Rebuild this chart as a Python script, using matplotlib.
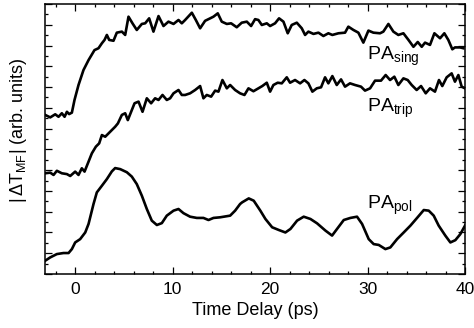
import numpy as np
import matplotlib
matplotlib.use('Agg')
import matplotlib.pyplot as plt
from matplotlib.ticker import MultipleLocator

# Fonte parecida com Arial/Helvetica da figura original
plt.rcParams['font.family'] = ['Liberation Sans', 'DejaVu Sans']
plt.rcParams['mathtext.fontset'] = 'custom'
plt.rcParams['mathtext.rm'] = 'Liberation Sans'
plt.rcParams['mathtext.it'] = 'Liberation Sans:italic'

##############################################################################
""" DADOS (lidos da figura, unidades arbitrárias) """

# PA_sing (curva de cima)
tempo_sing = [-3.08, -2.56, -2.05, -1.71, -1.37, -1.09, -0.85, -0.62, -0.34, -0.07,
              0.34, 0.85, 1.37, 1.98, 2.39, 2.74, 3.01, 3.25, 3.49, 3.93,
              4.27, 4.79, 5.13, 5.47, 5.88, 6.32, 6.84, 7.18, 7.59, 8.03,
              8.55, 9.06, 9.57, 10.09, 10.6, 10.94, 11.28, 11.97, 12.38, 12.82,
              13.33, 13.85, 14.19, 14.63, 15.04, 15.56, 16.0, 16.58, 17.09, 17.61,
              18.05, 18.46, 18.8, 19.15, 19.66, 20.0, 20.51, 20.92, 21.37, 21.81,
              22.22, 22.74, 23.25, 23.59, 23.93, 24.45, 24.96, 25.47, 25.98, 26.39,
              27.01, 27.69, 28.03, 28.55, 29.06, 29.57, 30.09, 30.6, 31.28, 31.62,
              32.14, 32.65, 33.16, 33.68, 34.2, 34.71, 35.15, 35.56, 35.9, 36.41,
              36.86, 37.44, 37.88, 38.29, 38.7, 38.97, 39.49, 39.83]
sinal_sing = [7.66, 7.54, 7.69, 7.57, 7.74, 7.57, 7.81, 7.70, 7.77, 8.38,
              9.10, 9.82, 10.30, 10.78, 10.87, 11.11, 11.27, 11.51, 11.27, 11.23,
              11.62, 11.67, 11.51, 12.39, 12.07, 11.75, 12.04, 12.07, 12.31, 11.67,
              12.42, 11.94, 12.15, 12.04, 12.23, 12.07, 12.23, 12.58, 12.23, 11.83,
              12.19, 12.31, 12.39, 12.55, 12.15, 12.04, 12.07, 11.88, 12.10, 12.15,
              11.94, 12.27, 12.23, 11.99, 12.07, 11.94, 12.07, 12.31, 12.15, 11.59,
              11.99, 12.10, 11.83, 11.51, 11.67, 11.56, 11.62, 11.46, 11.59, 11.51,
              11.59, 11.62, 11.91, 11.75, 11.62, 11.14, 11.72, 11.62, 11.59, 11.67,
              12.04, 11.67, 11.51, 11.59, 11.27, 10.94, 11.17, 10.94, 11.14, 11.03,
              11.59, 11.35, 11.59, 11.27, 10.82, 10.91, 10.91, 10.87]

# PA_trip (curva do meio)
tempo_trip = [-3.08, -2.56, -2.22, -1.88, -1.37, -0.85, -0.51, 0.0, 0.34, 0.68,
              0.96, 1.37, 1.71, 2.12, 2.46, 2.74, 3.08, 3.59, 4.1, 4.38,
              4.79, 5.13, 5.4, 5.74, 6.09, 6.5, 6.91, 7.35, 7.79, 8.2,
              8.55, 8.96, 9.4, 9.74, 10.09, 10.6, 10.94, 11.28, 11.79, 12.31,
              12.82, 13.16, 13.5, 13.95, 14.36, 14.7, 15.11, 15.56, 15.9, 16.41,
              16.92, 17.37, 17.78, 18.29, 18.8, 19.2, 19.66, 20.0, 20.34, 20.78,
              21.2, 21.71, 22.05, 22.56, 23.08, 23.52, 23.93, 24.34, 24.79, 25.23,
              25.64, 25.98, 26.39, 26.84, 27.28, 27.69, 28.2, 28.72, 29.33, 29.74,
              30.26, 30.77, 31.38, 31.86, 32.31, 32.75, 33.16, 33.68, 34.12, 34.53,
              35.04, 35.49, 35.97, 36.41, 36.92, 37.33, 37.67, 38.12, 38.63, 38.97,
              39.32, 39.66, 40.0]
sinal_trip = [4.85, 4.88, 4.77, 4.97, 4.85, 4.81, 4.72, 4.93, 4.77, 5.09,
              4.93, 5.41, 5.81, 6.13, 6.29, 6.69, 6.61, 6.85, 7.09, 7.25,
              7.66, 7.74, 7.41, 7.81, 8.22, 8.30, 7.81, 8.46, 8.22, 8.46,
              8.38, 8.62, 8.38, 8.46, 8.70, 8.86, 8.62, 8.62, 8.70, 8.86,
              9.05, 8.46, 8.62, 8.54, 8.83, 8.78, 9.34, 8.94, 9.10, 8.86,
              8.70, 8.62, 8.94, 8.80, 8.94, 9.05, 9.21, 8.78, 9.10, 9.21,
              9.18, 9.47, 9.21, 9.34, 9.18, 9.34, 9.18, 8.78, 8.94, 8.99,
              9.47, 9.18, 9.53, 9.10, 9.37, 9.02, 9.18, 9.10, 9.02, 8.83,
              8.94, 9.31, 9.31, 9.58, 9.34, 9.50, 9.10, 9.42, 9.34, 9.10,
              8.86, 9.05, 8.70, 8.94, 8.78, 9.34, 9.05, 9.47, 9.66, 9.26,
              9.58, 9.02, 8.94]

# PA_pol (curva de baixo, oscilante)
tempo_pol = [-3.08, -2.56, -1.88, -1.2, -0.68, -0.34, 0.0, 0.51, 1.03, 1.37,
             1.88, 2.22, 2.74, 3.25, 3.76, 4.1, 4.62, 5.3, 5.81, 6.32,
             6.84, 7.35, 7.86, 8.38, 8.89, 9.4, 10.09, 10.6, 11.11, 11.79,
             12.48, 13.16, 13.68, 14.19, 14.87, 15.9, 16.41, 16.92, 17.13, 17.81,
             18.32, 19.0, 19.52, 20.21, 20.89, 21.57, 22.09, 22.77, 23.45, 24.14,
             24.82, 25.68, 26.36, 26.87, 27.56, 28.24, 28.92, 29.44, 30.12, 30.63,
             31.15, 31.83, 32.34, 33.03, 33.71, 34.4, 35.08, 35.77, 36.28, 36.79,
             37.3, 37.98, 38.5, 39.01, 39.52, 40.0]
sinal_pol = [0.64, 0.80, 0.96, 1.01, 1.01, 1.20, 1.52, 1.68, 2.00, 2.41,
             3.37, 3.93, 4.25, 4.57, 4.94, 5.10, 5.05, 4.90, 4.69, 4.33,
             3.77, 3.13, 2.57, 2.36, 2.45, 2.81, 3.05, 3.13, 2.93, 2.76,
             2.70, 2.70, 2.60, 2.70, 2.73, 2.81, 3.05, 3.37, 3.45, 3.64,
             3.53, 3.05, 2.65, 2.25, 2.12, 2.00, 2.17, 2.57, 2.76, 2.65,
             2.44, 2.09, 1.85, 2.17, 2.60, 2.70, 2.76, 2.41, 1.68, 1.44,
             1.40, 1.20, 1.28, 1.68, 2.00, 2.33, 2.70, 3.08, 3.05, 2.81,
             2.33, 1.85, 1.52, 1.63, 1.92, 2.33]

# Rótulos das curvas
rotulos = ['PA$_{\\mathrm{sing}}$', 'PA$_{\\mathrm{trip}}$', 'PA$_{\\mathrm{pol}}$']
rotulo_y = [10.3, 7.8, 3.13]  # altura (linha de base) de cada rótulo
rotulo_x = 29.95

##############################################################################
""" GRÁFICO """

fig = plt.figure(figsize=(4.74, 3.28), dpi=100)
ax = fig.add_axes([0.0949, 0.1646, 0.8861, 0.8232])

for t, s in [(tempo_sing, sinal_sing), (tempo_trip, sinal_trip), (tempo_pol, sinal_pol)]:
    ax.plot(t, s, color='black', linewidth=1.9, solid_joinstyle='round')

for texto, y in zip(rotulos, rotulo_y):
    ax.text(rotulo_x, y, texto, fontsize=14, va='baseline', ha='left')

ax.set_xlim([-3.1, 40])  # eixo x cortado no 40
ax.set_ylim([0, 13])
ax.xaxis.set_major_locator(MultipleLocator(10))
ax.xaxis.set_minor_locator(MultipleLocator(2))
ax.yaxis.set_major_locator(MultipleLocator(1))
ax.yaxis.set_minor_locator(MultipleLocator(0.5))
ax.tick_params(which='both', direction='in', top=True, right=True, width=0.9)
ax.tick_params(which='major', length=5, labelsize=12.5, pad=5.5)
ax.tick_params(which='minor', length=2.5)
ax.tick_params(axis='y', labelleft=False)
for lado in ax.spines.values():
    lado.set_linewidth(1.1)

ax.set_xlabel('Time Delay (ps)', fontsize=13, labelpad=4)
ax.set_ylabel('|$\\,$ΔT$_{\\mathrm{MF}}$| (arb. units)', fontsize=13)
ax.yaxis.set_label_coords(-0.038, 0.531)

fig.savefig('out.png', dpi=100)
